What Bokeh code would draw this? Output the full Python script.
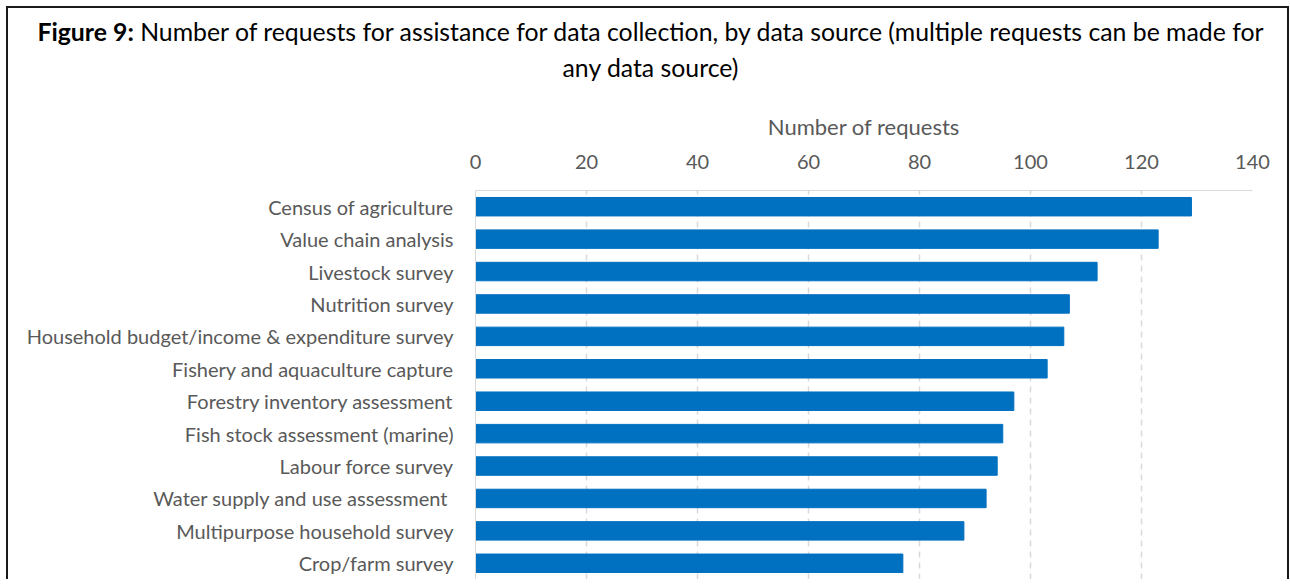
from bokeh.plotting import figure
from bokeh.models import Range1d, Div, FixedTicker
from bokeh.layouts import column
from bokeh.embed import file_html
from bokeh.resources import INLINE

categories = [
    "Census of agriculture",
    "Value chain analysis",
    "Livestock survey",
    "Nutrition survey",
    "Household budget/income & expenditure survey",
    "Fishery and aquaculture capture",
    "Forestry inventory assessment",
    "Fish stock assessment (marine)",
    "Labour force survey",
    "Water supply and use assessment ",
    "Multipurpose household survey",
    "Crop/farm survey",
]
requests = [129, 123, 112, 107, 106, 103, 97, 95, 94, 92, 88, 77]
x_ticks = [0, 20, 40, 60, 80, 100, 120, 140]

FONT = "Lato"
GRAY = "#595959"

title = Div(
    text="<b>Figure 9:</b> Number of requests for assistance for data collection, by data source (multiple requests can be made for<br>any data source)",
    width=1279, height=101, margin=0,
    styles={"font-family": FONT, "font-size": "24.8px", "color": "#000000",
            "text-align": "center", "line-height": "36px", "padding": "6px 0 0 6px",
            "box-sizing": "border-box", "white-space": "nowrap"},
)

p = figure(
    y_range=list(reversed(categories)),
    x_range=Range1d(0, 140),
    x_axis_location="above",
    width=1279, height=470,
    output_backend="svg", toolbar_location=None,
    min_border_left=467, min_border_right=35, min_border_top=80, min_border_bottom=0,
)
p.hbar(y=categories, right=requests, height=0.57, color="#0070C0", line_color="#0070C0")

p.outline_line_color = None
p.background_fill_color = "white"
p.border_fill_color = "white"

xa = p.xaxis[0]
xa.ticker = FixedTicker(ticks=x_ticks)
xa.axis_label = "Number of requests"
xa.axis_label_text_font = FONT
xa.axis_label_text_font_size = "22px"
xa.axis_label_text_font_style = "normal"
xa.axis_label_text_color = GRAY
xa.axis_label_standoff = 12
xa.major_label_text_font = FONT
xa.major_label_text_font_size = "20px"
xa.major_label_text_color = GRAY
xa.major_label_standoff = 22
xa.major_tick_out = 0
xa.major_tick_in = 0
xa.minor_tick_out = 0
xa.minor_tick_in = 0
xa.axis_line_color = "#D9D9D9"

ya = p.yaxis[0]
ya.major_label_text_font = FONT
ya.major_label_text_font_size = "20px"
ya.major_label_text_color = GRAY
ya.major_label_standoff = 22
ya.major_tick_out = 0
ya.major_tick_in = 0
ya.axis_line_color = "#D9D9D9"

p.ygrid.grid_line_color = None
p.xgrid.grid_line_color = "#D9D9D9"
p.xgrid.grid_line_dash = "6 5"
p.xgrid.grid_line_width = 1.5

layout = column(title, p, width=1283,
                styles={"margin-left": "6px", "margin-top": "6px",
                        "border-top": "2px solid #1a1a1a", "border-left": "2px solid #1a1a1a",
                        "border-right": "2px solid #1a1a1a", "background": "white"})

open("out.html", "w").write(file_html(layout, INLINE))
